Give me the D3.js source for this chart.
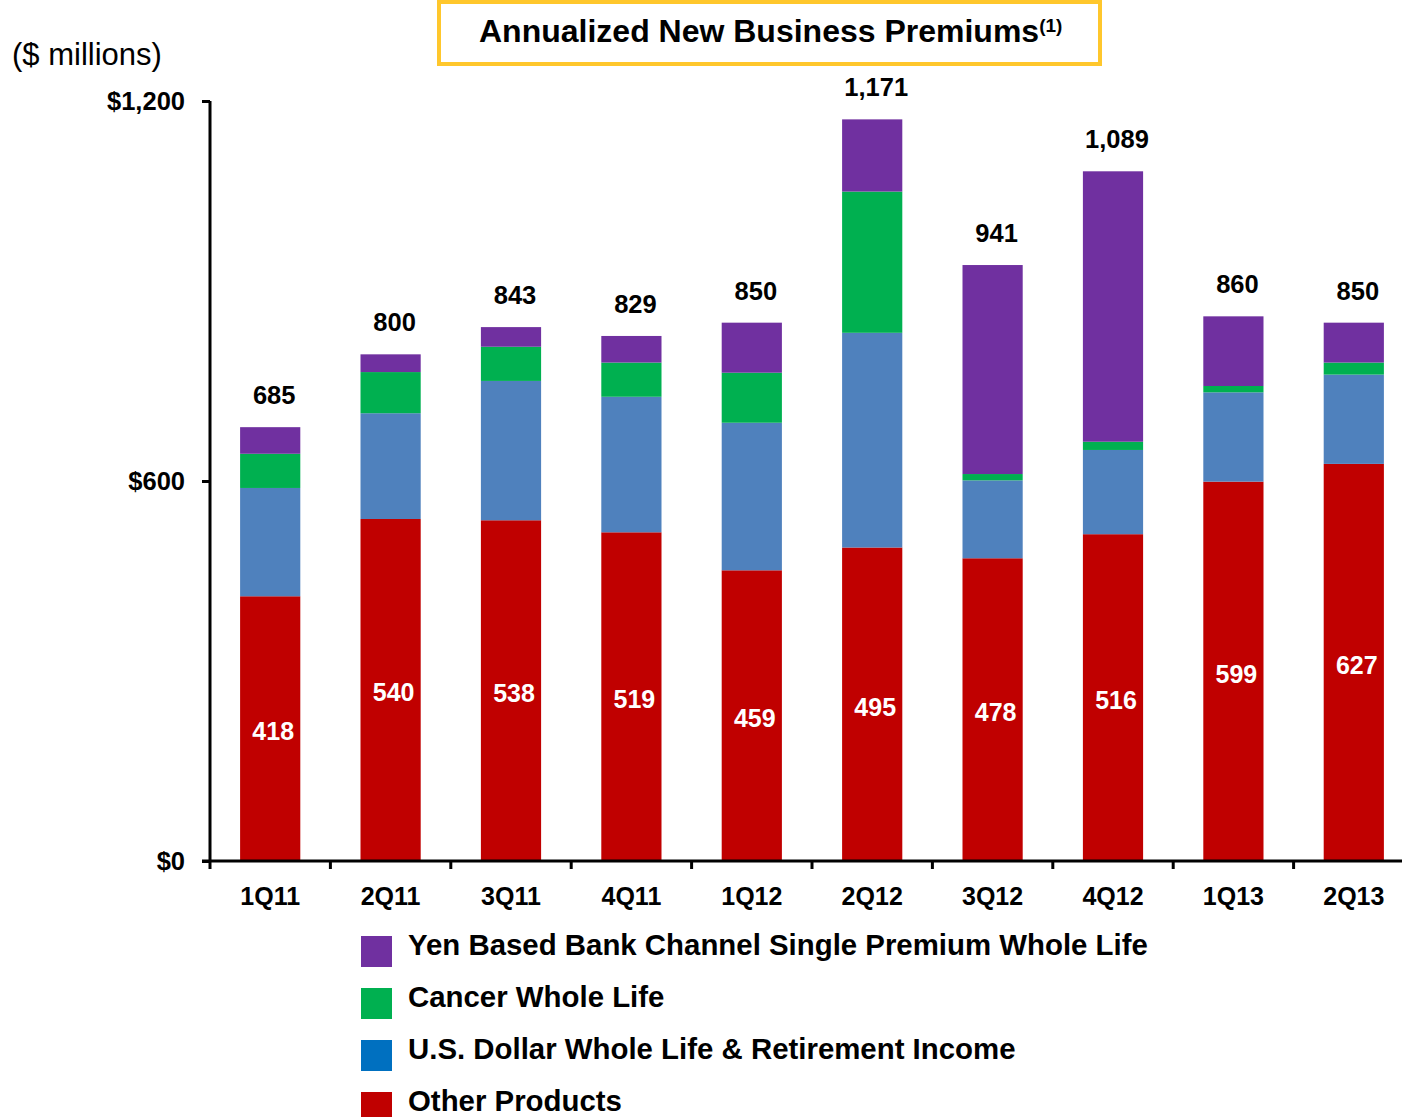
<!DOCTYPE html>
<html><head><meta charset="utf-8">
<script src="https://cdn.jsdelivr.net/npm/d3@7"></script>
<style>body{margin:0;background:#fff}svg{display:block;font-family:"Liberation Sans",Arial,sans-serif}</style>
</head><body>
<svg id="c" width="1402" height="1117"></svg>
<script>
const categories = ["1Q11","2Q11","3Q11","4Q11","1Q12","2Q12","3Q12","4Q12","1Q13","2Q13"];
const otherProducts = [418,540,538,519,459,495,478,516,599,627];
const usDollar      = [171,167,220,214,233,339,123,133,141,141];
const cancer        = [54,65,54,54,79,223,10,13,10,19];
const yenBased      = [42,28,31,42,79,114,330,427,110,63];
const totals        = [685,800,843,829,850,1171,941,1089,860,850];
const seriesNames = ["Other Products","U.S. Dollar Whole Life & Retirement Income","Cancer Whole Life","Yen Based Bank Channel Single Premium Whole Life"];
const yTicks = [0,600,1200];
const yTickLabels = ["$0","$600","$1,200"];

const colors = {"Other Products":"#C00000","U.S. Dollar Whole Life & Retirement Income":"#4F81BD","Cancer Whole Life":"#00B050","Yen Based Bank Channel Single Premium Whole Life":"#7030A0"};
const legendColors = {"Other Products":"#C00000","U.S. Dollar Whole Life & Retirement Income":"#0070C0","Cancer Whole Life":"#00B050","Yen Based Bank Channel Single Premium Whole Life":"#7030A0"};

const rows = categories.map((c,i)=>({cat:c,"Other Products":otherProducts[i],"U.S. Dollar Whole Life & Retirement Income":usDollar[i],"Cancer Whole Life":cancer[i],"Yen Based Bank Channel Single Premium Whole Life":yenBased[i],total:totals[i]}));

const svg = d3.select("#c");
const x = d3.scaleBand().domain(categories).range([210,1414]).paddingInner(0.5).paddingOuter(0.25);
const y = d3.scaleLinear().domain([0,1200]).range([861,101]);

const stack = d3.stack().keys(seriesNames)(rows);

svg.append("g").selectAll("g").data(stack).join("g")
  .attr("fill",d=>colors[d.key])
  .selectAll("rect").data(d=>d).join("rect")
  .attr("x",d=>x(d.data.cat)).attr("width",x.bandwidth())
  .attr("y",d=>y(d[1])).attr("height",d=>y(d[0])-y(d[1]));

// Red values inside
svg.append("g").selectAll("text").data(rows).join("text")
  .attr("x",d=>x(d.cat)+x.bandwidth()/2+3).attr("y",d=>y(d["Other Products"]/2))
  .attr("dy","0.45em").attr("text-anchor","middle").attr("fill","#fff")
  .attr("font-weight","bold").attr("font-size","25px").text(d=>d["Other Products"]);

// totals
svg.append("g").selectAll("text").data(rows).join("text")
  .attr("x",d=>x(d.cat)+x.bandwidth()/2+4).attr("y",d=>y(d.total)-23)
  .attr("text-anchor","middle").attr("fill","#000")
  .attr("font-weight","bold").attr("font-size","25.5px").text(d=>d3.format(",")(d.total));

// y axis
const yAxis = svg.append("g").attr("transform","translate(210,0)")
  .call(d3.axisLeft(y).tickValues(yTicks).tickFormat((d,i)=>yTickLabels[i]).tickSize(8).tickPadding(17));
yAxis.select(".domain").attr("stroke","#000").attr("stroke-width",3).attr("d","M0,101V861");
yAxis.selectAll(".tick line").attr("stroke","#000").attr("stroke-width",3);
yAxis.selectAll(".tick text").attr("font-size","25.5px").attr("font-weight","bold").attr("fill","#000").attr("font-family","Liberation Sans, Arial, sans-serif");

// x axis
const xAxis = svg.append("g").attr("transform","translate(0,861)")
  .call(d3.axisBottom(x).tickSize(0).tickPadding(26));
xAxis.select(".domain").attr("stroke","#000").attr("stroke-width",3).attr("d","M202,0H1402");
xAxis.selectAll(".tick text").attr("font-size","25px").attr("font-weight","bold").attr("fill","#000").attr("font-family","Liberation Sans, Arial, sans-serif");
// boundary ticks
const bounds = categories.map(c=>x(c)-x.step()*0.25);
xAxis.append("g").selectAll("line").data(bounds).join("line")
  .attr("x1",d=>d).attr("x2",d=>d).attr("y1",0).attr("y2",8)
  .attr("stroke","#000").attr("stroke-width",3);

// units label
svg.append("text").attr("x",12).attr("y",65).attr("font-size","31px").attr("fill","#000").text("($ millions)");

// title box
svg.append("rect").attr("x",439).attr("y",2).attr("width",661).attr("height",62)
  .attr("fill","#fff").attr("stroke","#FFC72C").attr("stroke-width",4);
const t = svg.append("text").attr("x",479).attr("y",42).attr("font-size","32px").attr("font-weight","bold").attr("fill","#000");
t.append("tspan").text("Annualized New Business Premiums");
t.append("tspan").attr("font-size","19px").attr("dy","-10").text("(1)");

// legend
const legendOrder = ["Yen Based Bank Channel Single Premium Whole Life","Cancer Whole Life","U.S. Dollar Whole Life & Retirement Income","Other Products"];
const lg = svg.append("g").selectAll("g").data(legendOrder).join("g")
  .attr("transform",(d,i)=>`translate(361,${936+i*52})`);
lg.append("rect").attr("width",31).attr("height",31).attr("fill",d=>legendColors[d]);
lg.append("text").attr("x",47).attr("y",19).attr("font-size","29.4px").attr("font-weight","bold").attr("fill","#000").text(d=>d);
</script>
</body></html>
